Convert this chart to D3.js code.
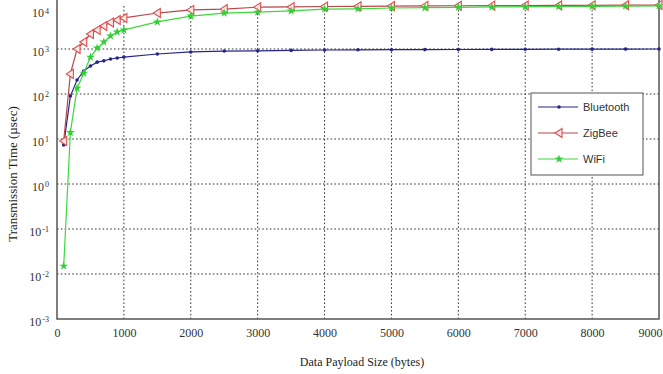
<!DOCTYPE html>
<html>
<head>
<meta charset="utf-8">
<script src="https://cdn.jsdelivr.net/npm/d3@7"></script>
<style>
  body { margin: 0; background: #fff; }
  svg { display: block; }
</style>
</head>
<body>
<div id="chart"></div>
<script>
// chart data
const payload = [100, 200, 300, 400, 500, 600, 700, 800, 900, 1000,
  1500, 2000, 2500, 3000, 3500, 4000, 4500, 5000, 5500, 6000, 6500, 7000, 7500, 8000, 8500, 9000];
const bluetooth = [7.4, 90, 205, 325, 420, 510, 545, 600, 630, 660,
  775, 860, 900, 910, 930, 950, 960, 965, 970, 975, 980, 985, 990, 993, 996, 1000];
const zigbee = [9, 280, 1000, 1430, 2150, 2650, 3250, 3900, 4400, 4900,
  6300, 7400, 7700, 8500, 8600, 8800, 8900, 9000, 9100, 9150, 9200, 9250, 9300, 9350, 9400, 9450];
const wifi = [0.015, 14, 135, 290, 660, 1050, 1430, 1950, 2400, 2650,
  4000, 5400, 6300, 6600, 7000, 7700, 7800, 8150, 8300, 8450, 8600, 8700, 8800, 8900, 9000, 9100];
const seriesNames = ['Bluetooth', 'ZigBee', 'WiFi'];
const xTicks = [0, 1000, 2000, 3000, 4000, 5000, 6000, 7000, 8000, 9000];
const yExponents = [-3, -2, -1, 0, 1, 2, 3, 4];

const width = 663;
const height = 374;
const plot = { left: 57, right: 659, top: 4, bottom: 319 };

const svg = d3.select('#chart').append('svg')
  .attr('width', width)
  .attr('height', height);

const xScale = d3.scaleLinear()
  .domain([0, 9000])
  .range([plot.left, plot.right]);

const yScale = d3.scaleLog()
  .domain([1e-3, 1e4])
  .range([plot.bottom, plot.top]);

//
// grid
//
const grid = svg.append('g').attr('class', 'grid')
  .attr('stroke', '#333')
  .attr('stroke-width', 1)
  .attr('stroke-dasharray', '1.6,2.2');

grid.selectAll('.vgrid')
  .data(xTicks.slice(1, -1))
  .enter().append('line')
    .attr('x1', d => xScale(d))
    .attr('x2', d => xScale(d))
    .attr('y1', plot.top + 2)
    .attr('y2', plot.bottom);

grid.selectAll('.hgrid')
  .data(yExponents.slice(1, -1))
  .enter().append('line')
    .attr('x1', plot.left)
    .attr('x2', plot.right)
    .attr('y1', d => yScale(Math.pow(10, d)))
    .attr('y2', d => yScale(Math.pow(10, d)));

//
// axes
//
const xAxis = d3.axisBottom(xScale)
  .tickValues(xTicks)
  .tickSize(0)
  .tickPadding(9)
  .tickFormat(d3.format('d'));

const gx = svg.append('g')
  .attr('transform', `translate(0, ${plot.bottom})`)
  .call(xAxis);
gx.select('.domain').remove();
gx.selectAll('text')
  .style('font-family', 'Liberation Serif, serif')
  .style('font-size', '12px')
  .attr('fill', '#333');
// last label sits against the right edge, like the original
gx.selectAll('.tick text')
  .filter(d => d === 9000)
  .attr('text-anchor', 'end')
  .attr('dx', 3);

const yAxis = d3.axisLeft(yScale)
  .tickValues(yExponents.map(e => Math.pow(10, e)))
  .tickSize(0)
  .tickPadding(8)
  .tickFormat('');

const gy = svg.append('g')
  .attr('transform', `translate(${plot.left}, 0)`)
  .call(yAxis);
gy.select('.domain').remove();
gy.selectAll('.tick text')
  .style('font-family', 'Liberation Serif, serif')
  .style('font-size', '12px')
  .attr('fill', '#333')
  .attr('dy', (d) => Math.log10(d) === 4 ? '1.05em' : '0.5em')
  .each(function(d) {
    const t = d3.select(this);
    const e = Math.round(Math.log10(d));
    t.append('tspan').text('10');
    t.append('tspan')
      .attr('dx', '1')
      .attr('dy', '-0.45em')
      .style('font-size', '8px')
      .text(e);
  });

// box lines (left, bottom, right)
svg.append('path')
  .attr('d', `M${plot.left},0 V${plot.bottom} H${plot.right} V0`)
  .attr('fill', 'none')
  .attr('stroke', '#555')
  .attr('stroke-width', 1.5);

//
// series
//
const colors = { Bluetooth: '#25258c', ZigBee: '#b8474a', WiFi: '#3ed83e' };
const dataBy = { Bluetooth: bluetooth, ZigBee: zigbee, WiFi: wifi };

const line = d3.line()
  .x(d => xScale(d[0]))
  .y(d => yScale(d[1]));

const triangleLeft = 'M-4,0 L3,-4.5 L3,4.5 Z';
const star = d3.symbol().type(d3.symbolStar).size(24)();

function drawMarker(g, name) {
  if (name === 'Bluetooth') {
    g.append('circle').attr('r', 1.8).attr('fill', colors.Bluetooth);
  } else if (name === 'ZigBee') {
    g.append('path').attr('d', triangleLeft)
      .attr('fill', '#fbe8e8')
      .attr('stroke', '#d8504f')
      .attr('stroke-width', 1.1);
  } else {
    g.append('path').attr('d', star).attr('fill', '#2fcf35');
  }
}

seriesNames.forEach(name => {
  const pts = payload.map((p, i) => [p, dataBy[name][i]]);
  const g = svg.append('g').attr('class', `series ${name}`);
  g.append('path')
    .datum(pts)
    .attr('fill', 'none')
    .attr('stroke', colors[name])
    .attr('stroke-width', 1.2)
    .attr('d', line);
  g.selectAll('.mark')
    .data(pts)
    .enter().append('g')
      .attr('class', 'mark')
      .attr('transform', d => `translate(${xScale(d[0])}, ${yScale(d[1])})`)
      .each(function() { drawMarker(d3.select(this), name); });
});

//
// legend
//
const legend = svg.append('g').attr('transform', 'translate(531, 93)');
legend.append('rect')
  .attr('width', 112)
  .attr('height', 82)
  .attr('fill', '#fff')
  .attr('stroke', '#555')
  .attr('stroke-width', 1);

seriesNames.forEach((name, i) => {
  const row = legend.append('g').attr('transform', `translate(0, ${14 + i * 26})`);
  row.append('line')
    .attr('x1', 7).attr('x2', 47)
    .attr('stroke', colors[name])
    .attr('stroke-width', 1.2);
  drawMarker(row.append('g').attr('transform', 'translate(28, 0)'), name);
  row.append('text')
    .attr('x', 52)
    .attr('dy', '0.35em')
    .style('font-family', 'Liberation Sans, Arial, sans-serif')
    .style('font-size', '11px')
    .attr('fill', '#333')
    .text(name);
});

//
// titles
//
svg.append('text')
  .attr('x', (plot.left + plot.right) / 2 + 4)
  .attr('y', 366)
  .attr('text-anchor', 'middle')
  .style('font-family', 'Liberation Serif, serif')
  .style('font-size', '12px')
  .attr('fill', '#222')
  .text('Data Payload Size (bytes)');

svg.append('text')
  .attr('transform', 'translate(17, 174) rotate(-90)')
  .attr('text-anchor', 'middle')
  .style('font-family', 'Liberation Serif, serif')
  .style('font-size', '13px')
  .attr('fill', '#222')
  .text('Transmission Time (µsec)');
</script>
</body>
</html>
